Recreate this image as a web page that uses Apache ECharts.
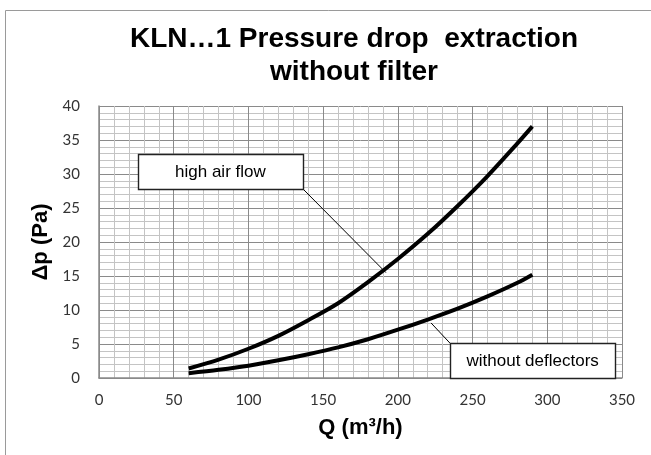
<!DOCTYPE html>
<html>
<head>
<meta charset="utf-8">
<script src="https://cdn.jsdelivr.net/npm/echarts@6/dist/echarts.min.js"></script>
<style>
  html, body { margin: 0; padding: 0; background: #fff; }
  #chart { width: 651px; height: 455px; }
</style>
</head>
<body>
<div id="chart"></div>
<script>
// Air flow Q in m³/h
const flow = [60, 80, 100, 120, 140, 160, 180, 200, 220, 240, 260, 280, 290];
// Pressure drop Δp in Pa, one list per configuration
const highAirFlow = [1.4, 2.7, 4.3, 6.2, 8.5, 11.0, 14.1, 17.5, 21.2, 25.3, 29.7, 34.5, 37.0];
const withoutDeflectors = [0.7, 1.2, 1.8, 2.6, 3.5, 4.5, 5.7, 7.1, 8.6, 10.2, 12.0, 14.0, 15.2];

const xTicks = { min: 0, max: 350, step: 50 };
const yTicks = { min: 0, max: 40, step: 5 };

const titleLines = ['KLN…1 Pressure drop  extraction', 'without filter'];

// Callout labels, anchored in data units: box corners and leader line ends
const callouts = [
  { text: 'high air flow', box: [[26, 32.9], [136.5, 27.8]], leader: [[136.5, 27.8], [192, 15.5]] },
  { text: 'without deflectors', box: [[235, 5.1], [345.4, 0]], leader: [[222.2, 8.1], [235, 5.1]] }
];

const pairs = (ys) => flow.map((q, i) => [q, ys[i]]);

const chart = echarts.init(document.getElementById('chart'), null, { renderer: 'canvas' });

const axisLabelStyle = { fontFamily: 'Lato', fontSize: 15, color: '#333' };
const nameStyle = { fontFamily: 'Liberation Sans', fontWeight: 'bold', fontSize: 22, color: '#000' };
const majorLine = { lineStyle: { color: '#8a8a8a', width: 1 } };
const minorLine = { lineStyle: { color: '#c4c4c4', width: 1 } };

chart.setOption({
  animation: false,
  backgroundColor: '#fff',
  grid: { left: 99, right: 29, top: 106, bottom: 77, containLabel: false },
  xAxis: {
    type: 'value',
    min: xTicks.min, max: xTicks.max, interval: xTicks.step,
    name: 'Q (m³/h)', nameLocation: 'middle', nameGap: 39,
    nameTextStyle: nameStyle,
    axisLine: { show: true, lineStyle: { color: '#8a8a8a', width: 1.5 } },
    axisTick: { show: false },
    axisLabel: Object.assign({ margin: 15 }, axisLabelStyle),
    splitLine: Object.assign({ show: true }, majorLine),
    minorTick: { show: false, splitNumber: 5 },
    minorSplitLine: Object.assign({ show: true }, minorLine)
  },
  yAxis: {
    type: 'value',
    min: yTicks.min, max: yTicks.max, interval: yTicks.step,
    name: 'Δp (Pa)', nameLocation: 'middle', nameGap: 43, nameRotate: 90,
    nameTextStyle: nameStyle,
    axisLine: { show: true, lineStyle: { color: '#8a8a8a', width: 1.5 } },
    axisTick: { show: false },
    axisLabel: Object.assign({ margin: 19 }, axisLabelStyle),
    splitLine: Object.assign({ show: true }, majorLine),
    minorTick: { show: false, splitNumber: 5 },
    minorSplitLine: Object.assign({ show: true }, minorLine)
  },
  series: [
    {
      name: 'high air flow', type: 'line', data: pairs(highAirFlow),
      smooth: 0.3, showSymbol: false, symbol: 'none',
      lineStyle: { color: '#000', width: 4 }, z: 5
    },
    {
      name: 'without deflectors', type: 'line', data: pairs(withoutDeflectors),
      smooth: 0.3, showSymbol: false, symbol: 'none',
      lineStyle: { color: '#000', width: 4 }, z: 5
    }
  ]
});

// Frame, title and callouts drawn on top of the plot
const toPx = (p) => chart.convertToPixel({ gridIndex: 0 }, p);
const graphics = [
  {
    type: 'rect', silent: true, z: 0,
    shape: { x: 5.5, y: 10.5, width: 700, height: 500 },
    style: { fill: null, stroke: '#9a9a9a', lineWidth: 1 }
  }
];
titleLines.forEach((line, i) => {
  graphics.push({
    type: 'text', z: 10, x: 354, y: 39 + i * 33,
    style: {
      text: line, fill: '#000', align: 'center', verticalAlign: 'middle',
      font: 'bold 28px "Liberation Sans", Arial, sans-serif'
    }
  });
});
callouts.forEach((c) => {
  const a = toPx(c.box[0]);
  const b = toPx(c.box[1]);
  const l0 = toPx(c.leader[0]);
  const l1 = toPx(c.leader[1]);
  graphics.push({
    type: 'line', z: 20,
    shape: { x1: l0[0], y1: l0[1], x2: l1[0], y2: l1[1] },
    style: { stroke: '#000', lineWidth: 1 }
  });
  graphics.push({
    type: 'rect', z: 21,
    shape: { x: Math.round(a[0]) + 0.5, y: Math.round(a[1]) + 0.5, width: Math.round(b[0] - a[0]), height: Math.round(b[1] - a[1]) },
    style: { fill: '#fff', stroke: '#222', lineWidth: 1.4 }
  });
  graphics.push({
    type: 'text', z: 22, x: (a[0] + b[0]) / 2, y: (a[1] + b[1]) / 2 + 1,
    style: {
      text: c.text, fill: '#000', align: 'center', verticalAlign: 'middle',
      font: '17px "Liberation Sans", Arial, sans-serif'
    }
  });
});
chart.setOption({ graphic: graphics });
</script>
</body>
</html>
